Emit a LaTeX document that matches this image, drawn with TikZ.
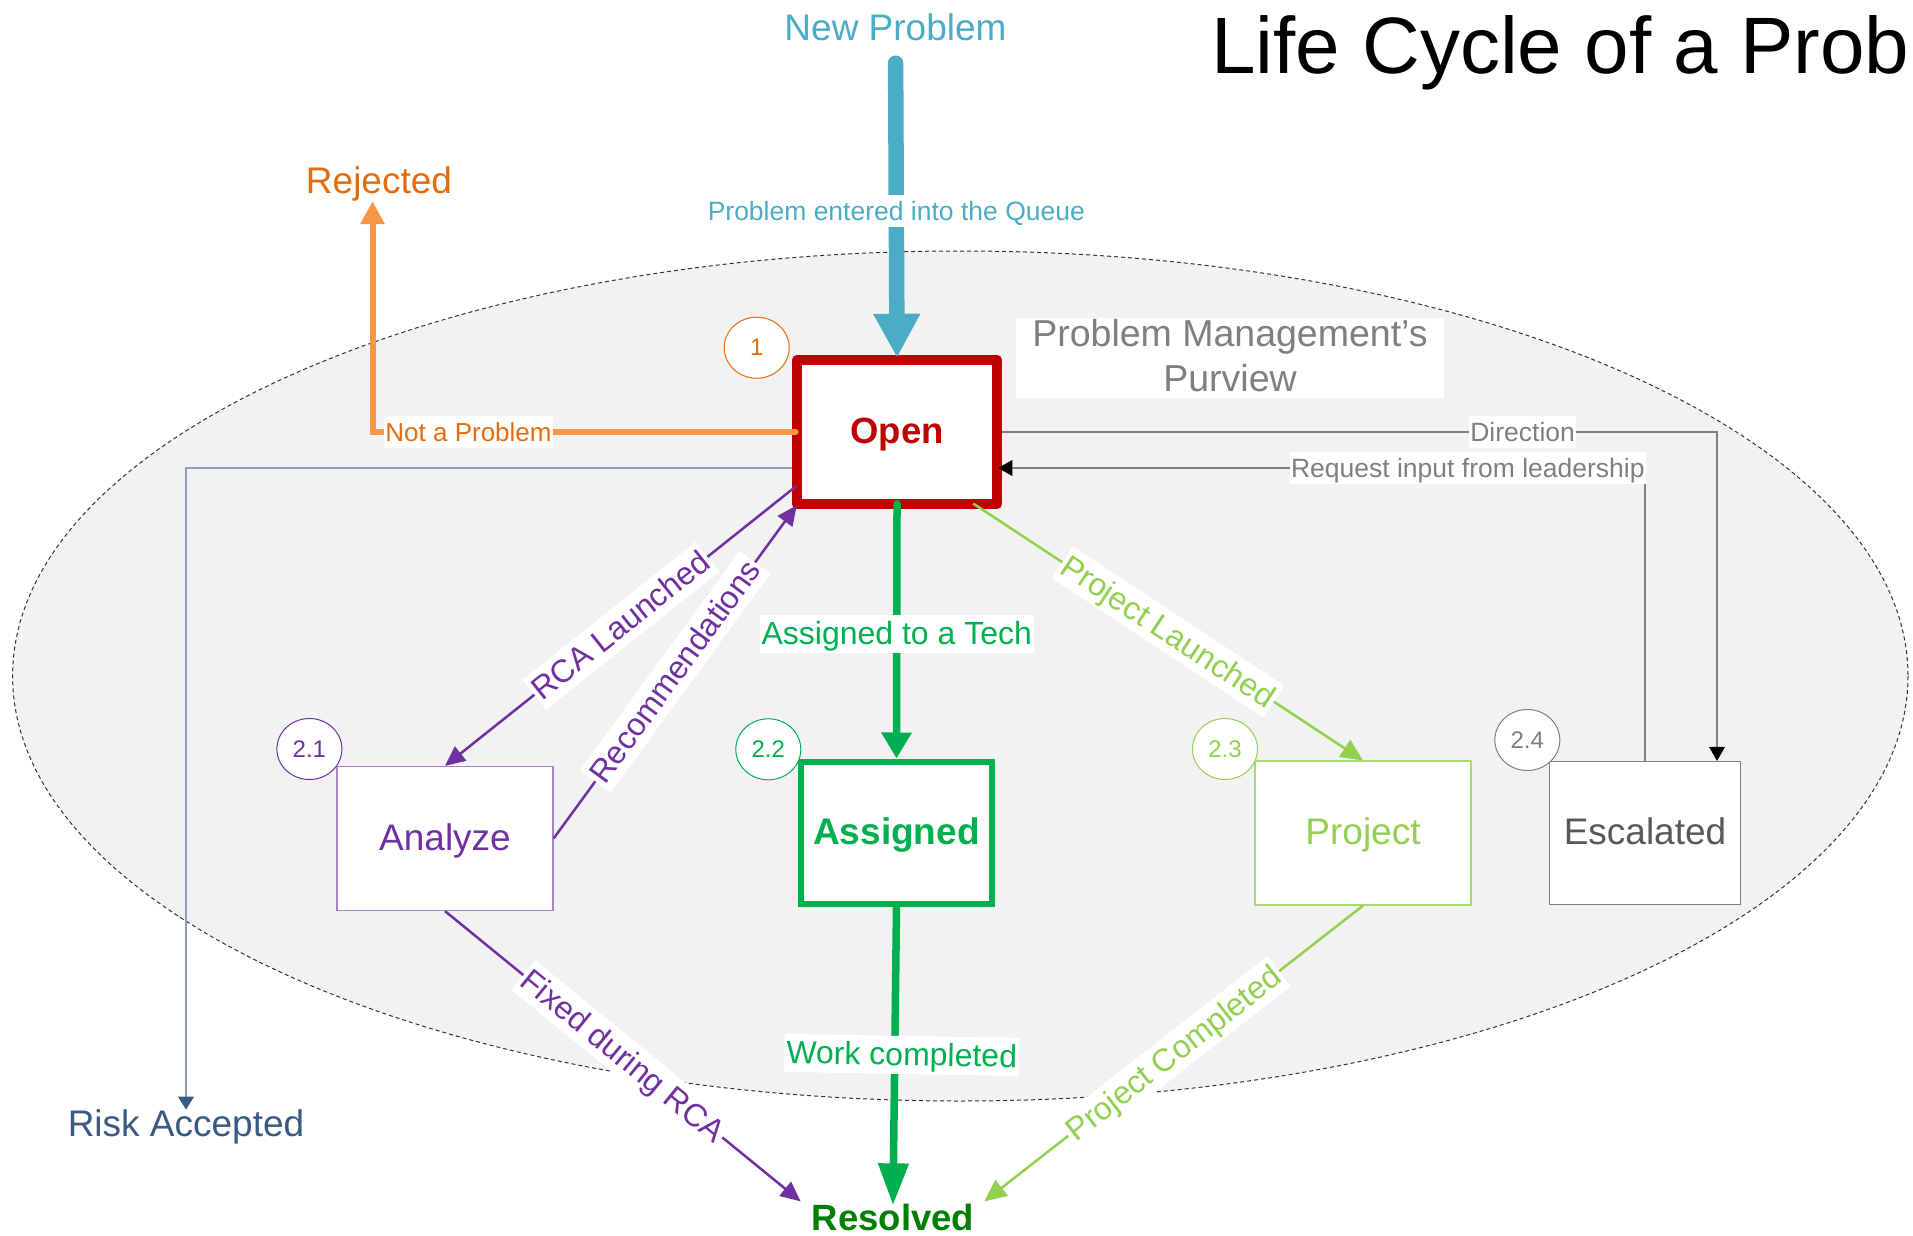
\documentclass[tikz,border=0pt]{standalone}
\usepackage{fontspec}
\setmainfont{Liberation Sans}
\usetikzlibrary{arrows.meta,shapes.geometric,calc}
\definecolor{blueA}{HTML}{4BACC6}
\definecolor{orL}{HTML}{F79646}
\definecolor{orT}{HTML}{E46C0A}
\definecolor{redO}{HTML}{C00000}
\definecolor{purp}{HTML}{7030A0}
\definecolor{grn}{HTML}{00B050}
\definecolor{lgrn}{HTML}{92D050}
\definecolor{resg}{HTML}{008000}
\definecolor{grayL}{HTML}{7F7F7F}
\definecolor{escT}{HTML}{595959}
\definecolor{riskL}{HTML}{8EA0BA}
\definecolor{riskT}{HTML}{3B5A82}
\definecolor{ellF}{HTML}{F2F2F2}
\newcommand{\fsz}[1]{\fontsize{#1}{#1}\selectfont}
\begin{document}
\begin{tikzpicture}[x=1pt,y=-1pt,
  box/.style={rectangle, fill=white, minimum width=216pt, minimum height=144pt, inner sep=0pt, font=\fsz{37}, line width=1.2pt, text height=23pt, text depth=0pt},
  num/.style={ellipse, fill=white, minimum width=65pt, minimum height=61pt, inner sep=0pt, line width=1pt, font=\fsz{24}},
  lab/.style={fill=white, inner xsep=2pt, inner ysep=0pt, text height=29.5pt, text depth=8.5pt, font=\fsz{32}},
  glab/.style={fill=white, inner xsep=1.5pt, inner ysep=0pt, text height=25pt, text depth=7pt, font=\fsz{26.5}, text=grayL},
  plain/.style={inner sep=0pt, anchor=base},
]
\useasboundingbox (0,0) rectangle (1913,1236);
\fill[white] (0,0) rectangle (1913,1236);
\draw[fill=ellF, draw=black!80, line width=1pt, dash pattern=on 4pt off 3pt] (960.3,676) ellipse [x radius=947.7, y radius=425];

% free texts
\node[plain, anchor=base west, font=\fsz{80}] (title) at (1211,74) {Life Cycle of a Prob};
\node[plain, font=\fsz{37}, text=blueA] (newp) at (895.5,40.7) {New Problem};
\node[plain, font=\fsz{37}, text=orT] (rej) at (379,193.3) {Rejected};
\node[plain, font=\fsz{37}, text=riskT] (risk) at (186,1136.7) {Risk Accepted};
\node[plain, font=\bfseries\fsz{36.5}, text=resg] (res) at (893,1230) {Resolved};

% boxes
\node[box, minimum width=200pt, minimum height=144pt, draw=redO, line width=10.5pt, line join=round, text=redO, font=\bfseries\fsz{36.5}] (open) at (897,432) {Open};
\node[box, draw=purp!60, text=purp] (ana) at (445,838.5) {Analyze};
\node[box, minimum width=191pt, minimum height=142pt, draw=grn, line width=6pt, text=grn, font=\bfseries\fsz{37}] (asg) at (896.5,832.5) {Assigned};
\node[box, draw=lgrn!80, text=lgrn] (proj) at (1363,833) {Project};
\node[box, minimum width=191.5pt, minimum height=143pt, draw=grayL, text=escT] (esc) at (1645,833) {Escalated};

\node[fill=white, minimum width=428pt, minimum height=80pt, inner sep=0pt] (purvbox) at (1230,358) {};
\node[inner sep=0pt, align=center, text=grayL, font=\fontsize{37.5}{45}\selectfont] (purv) at (1230,355.5) {Problem Management’s\\Purview};

% number circles
\node[num, draw=orT, text=orT] (n1) at (756.7,347.7) {1};
\node[num, draw=purp, text=purp] (n21) at (309.4,749) {2.1};
\node[num, draw=grn, text=grn] (n22) at (768.3,749.3) {2.2};
\node[num, draw=lgrn, text=lgrn] (n23) at (1225,749) {2.3};
\node[num, draw=grayL, text=grayL] (n24) at (1527.3,740) {2.4};

% connectors
\draw[blueA, line width=15.5pt, line cap=round, shorten <=22pt, shorten >=-3pt, -{Triangle[width=44pt,length=44pt]}] (newp.south) -- (open.north)
  node[pos=0.543, glab, text=blueA] (qlab) {Problem entered into the Queue};

\draw[orL, line width=6pt, line cap=round, shorten <=-4pt, -{Triangle[width=23pt,length=23pt]}] (open.west) -| ([xshift=-6.5pt]rej.south)
  node[pos=0.3855, glab, font=\fsz{26}, text=orT] (nap) {Not a Problem};

\draw[riskL, line width=2pt, -{Triangle[width=15.5pt,length=13pt,color=riskT]}] ([shift={(0,35.7)}]open.west) -| (risk.north);

\draw[grayL, line width=2pt, -{Triangle[width=15.5pt,length=14pt,color=black]}] (open.east) -| ([xshift=72pt]esc.north)
  node[pos=0.364, glab] (dir) {Direction};

\draw[grayL, line width=2pt, -{Triangle[width=15.5pt,length=14pt,color=black]}] (esc.north) |- ([shift={(-4,36)}]open.east)
  node[pos=0.637, glab] (req) {Request input from leadership};

\draw[grn, line width=7.5pt, line cap=round, shorten <=-5.5pt, -{Triangle[width=29pt,length=26pt]}] (open.south) -- (asg.north)
  node[pos=0.5, lab, text=grn] (atl) {Assigned to a Tech};

\draw[grn, line width=7.5pt, shorten >=-2pt, -{Triangle[width=29pt,length=42pt]}] (asg.south) -- (res.north)
  node[pos=0.5, lab, text=grn, xshift=7pt, rotate=-1] (wc) {Work completed};

\draw[purp, line width=2.5pt, -{Triangle[width=18pt,length=20pt]}] ([shift={(5,53.7)}]open.west) -- (ana.north)
  node[pos=0.5, lab, sloped, text=purp] (rca) {RCA Launched};
\draw[purp, line width=2.5pt, -{Triangle[width=18pt,length=20pt]}] (ana.east) -- ([shift={(5,-4)}]open.south west)
  node[pos=0.5, lab, sloped, text=purp] (rec) {Recommendations};
\draw[purp, line width=2.5pt, -{Triangle[width=18pt,length=20pt]}] (ana.south) -- ([shift={(-11,-2)}]res.north west)
  node[pos=0.5, lab, sloped, text=purp] (fix) {Fixed during RCA};

\draw[lgrn, line width=2.5pt, -{Triangle[width=20pt,length=22pt]}] ([shift={(-29,-5.7)}]open.south east) -- (proj.north)
  node[pos=0.5, lab, sloped, text=lgrn] (pl) {Project Launched};
\draw[lgrn, line width=2.5pt, -{Triangle[width=20pt,length=22pt]}] (proj.south) -- ([shift={(10,-2)}]res.north east)
  node[pos=0.5, lab, sloped, text=lgrn] (pc) {Project Completed};
\end{tikzpicture}
\end{document}
